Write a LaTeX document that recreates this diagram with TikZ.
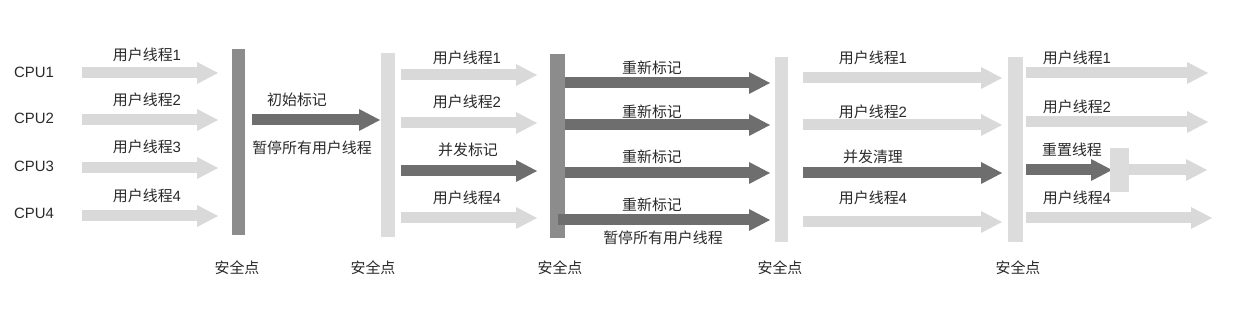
\documentclass[tikz,border=0pt]{standalone}
\usepackage{fontspec}
\setmainfont{Liberation Sans}
\newfontfamily\cjk{Noto Sans CJK SC}
\usetikzlibrary{arrows.meta}
\definecolor{lightg}{HTML}{D9D9D9}
\definecolor{lightbar}{HTML}{DCDCDC}
\definecolor{darkg}{HTML}{6E6E6E}
\definecolor{darkbar}{HTML}{8C8C8C}
\definecolor{txt}{HTML}{2A2A2A}
\newcommand\ut[1]{{\cjk 用户线程}#1}
\tikzset{
  fat/.style={line width=0.22cm,-{Triangle[length=0.42cm,width=0.44cm,line width=0pt]}},
  lightarrow/.style={fat,draw=lightg,color=lightg},
  darkarrow/.style={fat,draw=darkg,color=darkg},
  bar/.style={rectangle,inner sep=0pt,minimum width=0.28cm,minimum height=3.7cm},
  lbar/.style={bar,fill=lightbar},
  dbar/.style={bar,fill=darkbar},
  lbl/.style={text=txt,inner sep=0pt,font=\fontsize{8.5}{10}\selectfont},
}
\begin{document}
\begin{tikzpicture}[x=0.02cm,y=-0.02cm]
\useasboundingbox[fill=white] (0,0) rectangle (1240,313);
% bars
\node[dbar,minimum width=0.26cm,minimum height=3.72cm] (b1) at (238.5,142) {};
\node[lbar,minimum width=0.28cm,minimum height=3.68cm] (b2) at (388,145) {};
\node[dbar,minimum width=0.30cm,minimum height=3.68cm] (b3) at (557.5,146) {};
\node[lbar,minimum width=0.26cm,minimum height=3.70cm] (b4) at (781.5,149.5) {};
\node[lbar,minimum width=0.30cm,minimum height=3.70cm] (b5) at (1015.5,149.5) {};
% CPU labels
\node[lbl] (c1) at (34,72) {CPU1};
\node[lbl] (c2) at (34,118) {CPU2};
\node[lbl] (c3) at (34,166) {CPU3};
\node[lbl] (c4) at (34,213) {CPU4};
% section 1 arrows
\foreach \y/\n in {73/1,120/2,168/3,216/4}{
  \coordinate (s1a\n) at (82,\y); \coordinate (s1b\n) at (218,\y);
  \draw[lightarrow] (s1a\n) -- (s1b\n);
}
\node[lbl] (l11) at (147,55) {\ut{1}};
\node[lbl] (l12) at (147,100) {\ut{2}};
\node[lbl] (l13) at (147,147) {\ut{3}};
\node[lbl] (l14) at (147,196) {\ut{4}};
% initial mark
\coordinate (ia) at (252,120); \coordinate (ib) at (380,120);
\draw[darkarrow] (ia) -- (ib);
\node[lbl] (im) at (297,100) {\cjk 初始标记};
\node[lbl] (ip) at (312,148) {\cjk 暂停所有用户线程};
% section 2
\coordinate (s2a1) at (401,75); \coordinate (s2b1) at (537,75);
\coordinate (s2a2) at (401,123); \coordinate (s2b2) at (537,123);
\coordinate (s2a3) at (401,171); \coordinate (s2b3) at (537,171);
\coordinate (s2a4) at (401,218); \coordinate (s2b4) at (537,218);
\draw[lightarrow] (s2a1) -- (s2b1);
\draw[lightarrow] (s2a2) -- (s2b2);
\draw[darkarrow] (s2a3) -- (s2b3);
\draw[lightarrow] (s2a4) -- (s2b4);
\node[lbl] (l21) at (467,58) {\ut{1}};
\node[lbl] (l22) at (467,102) {\ut{2}};
\node[lbl] (l23) at (468,150) {\cjk 并发标记};
\node[lbl] (l24) at (467,198) {\ut{4}};
% section 3
\coordinate (s3a1) at (565,83); \coordinate (s3b1) at (770,83);
\coordinate (s3a2) at (565,125); \coordinate (s3b2) at (770,125);
\coordinate (s3a3) at (565,173); \coordinate (s3b3) at (770,173);
\coordinate (s3a4) at (558,220); \coordinate (s3b4) at (770,220);
\draw[darkarrow] (s3a1) -- (s3b1);
\draw[darkarrow] (s3a2) -- (s3b2);
\draw[darkarrow] (s3a3) -- (s3b3);
\draw[darkarrow] (s3a4) -- (s3b4);
\node[lbl] (l31) at (652,68) {\cjk 重新标记};
\node[lbl] (l32) at (652,112) {\cjk 重新标记};
\node[lbl] (l33) at (652,157) {\cjk 重新标记};
\node[lbl] (l34) at (652,205) {\cjk 重新标记};
\node[lbl] (l35) at (663,238) {\cjk 暂停所有用户线程};
% section 4
\coordinate (s4a1) at (803,78); \coordinate (s4b1) at (1002,78);
\coordinate (s4a2) at (803,125); \coordinate (s4b2) at (1002,125);
\coordinate (s4a3) at (803,173); \coordinate (s4b3) at (1002,173);
\coordinate (s4a4) at (803,222); \coordinate (s4b4) at (1002,222);
\draw[lightarrow] (s4a1) -- (s4b1);
\draw[lightarrow] (s4a2) -- (s4b2);
\draw[darkarrow] (s4a3) -- (s4b3);
\draw[lightarrow] (s4a4) -- (s4b4);
\node[lbl] (l41) at (873,58) {\ut{1}};
\node[lbl] (l42) at (873,112) {\ut{2}};
\node[lbl] (l43) at (873,157) {\cjk 并发清理};
\node[lbl] (l44) at (873,198) {\ut{4}};
% section 5
\coordinate (s5a1) at (1026,73); \coordinate (s5b1) at (1208,73);
\coordinate (s5a2) at (1026,122); \coordinate (s5b2) at (1208,122);
\coordinate (s5a3) at (1026,170); \coordinate (s5b3) at (1112,170);
\coordinate (s5c3) at (1125,170); \coordinate (s5d3) at (1207,170);
\coordinate (s5a4) at (1026,218); \coordinate (s5b4) at (1212,218);
\draw[lightarrow] (s5a1) -- (s5b1);
\draw[lightarrow] (s5a2) -- (s5b2);
\draw[lightarrow] (s5c3) -- (s5d3);
\draw[darkarrow] (s5a3) -- (s5b3);
\draw[lightarrow] (s5a4) -- (s5b4);
\node[rectangle,inner sep=0pt,fill=lightbar,minimum width=0.38cm,minimum height=0.88cm] (blk) at (1119.5,170) {};
\node[lbl] (l51) at (1077,58) {\ut{1}};
\node[lbl] (l52) at (1077,107) {\ut{2}};
\node[lbl] (l53) at (1072,150) {\cjk 重置线程};
\node[lbl] (l54) at (1077,198) {\ut{4}};
% safe points
\node[lbl] (p1) at (237,268) {\cjk 安全点};
\node[lbl] (p2) at (373,268) {\cjk 安全点};
\node[lbl] (p3) at (560,268) {\cjk 安全点};
\node[lbl] (p4) at (780,268) {\cjk 安全点};
\node[lbl] (p5) at (1018,268) {\cjk 安全点};
\end{tikzpicture}
\end{document}
